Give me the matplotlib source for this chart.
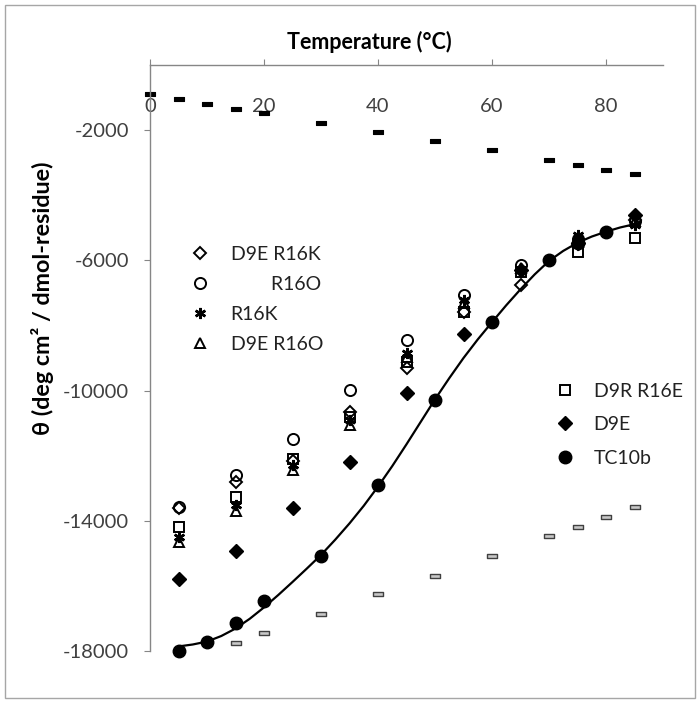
import matplotlib.pyplot as plt
from matplotlib.path import Path
from matplotlib.patches import Rectangle

plt.rcParams['font.family'] = ['Lato', 'DejaVu Sans']
plt.rcParams['axes.unicode_minus'] = False

# temperatures of the mutant scans (deg C)
temps = [5, 15, 25, 35, 45, 55, 65, 75, 85]

# mean residue ellipticity
d9e_r16k = [-13600, -12800, -12150, -10650, -9300, -7600, -6750, -5500, -4750]
r16o = [-13580, -12600, -11490, -9980, -8450, -7070, -6150, -5350, -4780]
r16k = [-14500, -13520, -12290, -10900, -8850, -7220, -6300, -5220, -4900]
d9e_r16o = [-14640, -13690, -12440, -11060, -8960, -7300, -6250, -5450, -4800]
d9r_r16e = [-14190, -13280, -12100, -10800, -9120, -7580, -6350, -5740, -5300]
d9e = [-15780, -14930, -13610, -12190, -10090, -8250, -6300, -5460, -4610]

tc10b_temps = [5, 10, 15, 20, 30, 40, 50, 60, 70, 75, 80]
tc10b = [-18000, -17720, -17140, -16460, -15080, -12900, -10290, -7900, -5990, -5460, -5120]

# two-state fit curve for TC10b
fit_temps = [5, 7.5, 10, 12.5, 15, 17.5, 20, 22.5, 25, 27.5, 30, 32.5, 35, 37.5,
             40, 42.5, 45, 47.5, 50, 52.5, 55, 57.5, 60, 62.5, 65, 67.5, 70,
             72.5, 75, 77.5, 80, 82.5, 85]
fit_vals = [-17860, -17800, -17710, -17540, -17310, -17010, -16660, -16280,
            -15880, -15470, -15050, -14580, -14080, -13540, -12950, -12320,
            -11650, -10960, -10270, -9620, -9000, -8430, -7900, -7380, -6890,
            -6430, -6020, -5710, -5460, -5270, -5120, -4990, -4890]

# folded / unfolded baselines (dash markers)
top_temps = [0, 5, 10, 15, 20, 30, 40, 50, 60, 70, 75, 80, 85]
top_vals = [-904, -1054, -1186, -1337, -1478, -1773, -2058, -2341, -2626,
            -2921, -3081, -3213, -3354]
low_temps = [15, 20, 30, 40, 50, 60, 70, 75, 80, 85]
low_vals = [-17745, -17457, -16873, -16259, -15687, -15073, -14480, -14190,
            -13890, -13590]

x_ticks = [0, 20, 40, 60, 80]
y_ticks = [-18000, -14000, -10000, -6000, -2000]

axis_grey = '#868686'
tick_grey = '#404040'

fig = plt.figure(figsize=(7, 7.03), dpi=100)
ax = fig.add_axes([150 / 700, 1 - 651 / 703, 513 / 700, (651 - 65) / 703])

dash = Path([(-1, -0.3), (1, -0.3), (1, 0.3), (-1, 0.3), (-1, -0.3)],
            [Path.MOVETO, Path.LINETO, Path.LINETO, Path.LINETO, Path.CLOSEPOLY])

ax.plot(low_temps, low_vals, ls='none', marker=dash, ms=7.5,
        mfc='#c8c8c8', mec='#404040', mew=1, clip_on=False)
ax.plot(top_temps, top_vals, ls='none', marker=dash, ms=7.5,
        mfc='black', mec='black', mew=0.8, clip_on=False)

open_kw = dict(ls='none', mfc='none', mec='black', mew=1.4, clip_on=False)
h_sq, = ax.plot(temps, d9r_r16e, marker='s', ms=7.5, **open_kw)
h_tri, = ax.plot(temps, d9e_r16o, marker='^', ms=7.5, **open_kw)
h_star, = ax.plot(temps, r16k, marker=(6, 2, 0), ms=8, ls='none',
                  mec='black', mew=1.8, clip_on=False)
h_dia, = ax.plot(temps, d9e_r16k, marker='D', ms=6, **open_kw)
h_circ, = ax.plot(temps, r16o, marker='o', ms=8, **open_kw)
h_fdia, = ax.plot(temps, d9e, ls='none', marker='D', ms=7,
                  mfc='black', mec='black', clip_on=False)
h_tc, = ax.plot(tc10b_temps, tc10b, ls='none', marker='o', ms=9,
                mfc='black', mec='black', clip_on=False)
ax.plot(fit_temps, fit_vals, color='black', lw=1.6)

ax.set_xlim(0, 90)
ax.set_ylim(-18000, 0)
ax.set_xticks(x_ticks)
ax.set_yticks(y_ticks)

for side in ['right', 'bottom']:
    ax.spines[side].set_visible(False)
for side in ['left', 'top']:
    ax.spines[side].set_color(axis_grey)
    ax.spines[side].set_linewidth(1)

ax.tick_params(axis='x', top=True, bottom=False, labeltop=True, labelbottom=False,
               direction='out', length=4, color=axis_grey, labelcolor=tick_grey,
               labelsize=14.5, pad=-40)
ax.tick_params(axis='y', direction='out', length=4, color=axis_grey,
               labelcolor=tick_grey, labelsize=14.5, pad=11)
ax.patch.set_visible(False)

fig.text(369 / 700, 1 - 42 / 703, 'Temperature (°C)', ha='center', va='center',
         fontsize=15.5, fontweight='bold')
fig.text(43 / 700, 1 - 298 / 703, 'θ (deg cm² / dmol-residue)', ha='center',
         va='center', rotation=90, fontsize=16.8, fontweight='bold')

leg1 = ax.legend([h_dia, h_circ, h_star, h_tri],
                 ['D9E R16K', '        R16O', 'R16K', 'D9E R16O'],
                 loc='upper left', bbox_to_anchor=(182 / 700, 1 - 236 / 703),
                 bbox_transform=fig.transFigure, frameon=False, fontsize=14,
                 handlelength=0.9, handletextpad=1.1, labelspacing=0.67,
                 borderpad=0, labelcolor='#222222')
ax.add_artist(leg1)
ax.legend([h_sq, h_fdia, h_tc], ['D9R R16E', 'D9E', 'TC10b'],
          loc='upper left', bbox_to_anchor=(547 / 700, 1 - 373 / 703),
          bbox_transform=fig.transFigure, frameon=False, fontsize=14,
          handlelength=0.9, handletextpad=1.0, labelspacing=0.85,
          borderpad=0, labelcolor='#222222')

fig.patches.append(Rectangle((5 / 700, 5 / 703), 690 / 700, 693 / 703,
                             transform=fig.transFigure, fill=False,
                             edgecolor='#a6a6a6', lw=1))

fig.savefig('out.png', dpi=100)
